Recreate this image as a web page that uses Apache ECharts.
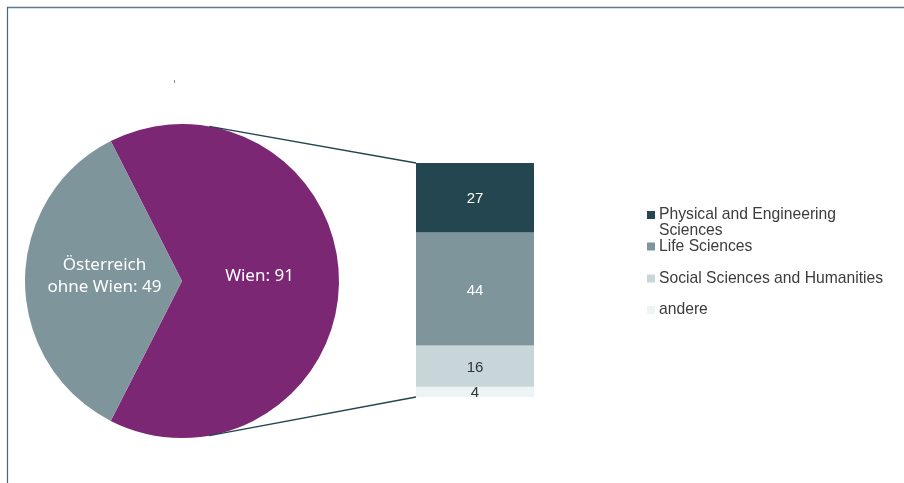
<!DOCTYPE html>
<html><head><meta charset="utf-8">
<script src="https://cdn.jsdelivr.net/npm/echarts@6/dist/echarts.min.js"></script>
<style>html,body{margin:0;padding:0;background:#fff}#c{width:904px;height:483px}</style>
</head><body><div id="c"></div>
<script>
const pieNames = ['Wien', 'Österreich\nohne Wien'];
const pieValues = [91, 49];
const barCategory = ['Wien'];
const fieldNames = ['andere', 'Social Sciences and Humanities', 'Life Sciences', 'Physical and Engineering Sciences'];
const fieldValues = [4, 16, 44, 27];
const legendOrder = ['Physical and Engineering Sciences', 'Life Sciences', 'Social Sciences and Humanities', 'andere'];

const fieldColors = { 'andere': '#eef3f4', 'Social Sciences and Humanities': '#c8d5d9', 'Life Sciences': '#7f959c', 'Physical and Engineering Sciences': '#234651' };
const fieldLabelColors = { 'andere': '#333333', 'Social Sciences and Humanities': '#333333', 'Life Sciences': '#ffffff', 'Physical and Engineering Sciences': '#ffffff' };
const pieColors = ['#7b2774', '#7f959c'];
const pieLabelOffsets = [[-4, -5], [4, -5]];

const PIE_C = [182, 281], PIE_R = 157;
const GRID = { left: 416, top: 163, width: 118, height: 234 };
const barTotal = fieldValues.reduce((a, b) => a + b, 0);

const chart = echarts.init(document.getElementById('c'), null, { renderer: 'canvas' });

const legendTops = [191, 238.5, 270.5, 302];
const legends = legendOrder.map((n, i) => ({
  data: [n], left: 647, top: legendTops[i], padding: 0, orient: 'vertical',
  itemWidth: 8, itemHeight: 8, icon: 'rect', selectedMode: false,
  formatter: (name) => name === 'Physical and Engineering Sciences' ? '\nPhysical and Engineering\nSciences' : name,
  textStyle: { fontFamily: 'Liberation Sans, Arial, sans-serif', fontSize: 15.7, color: '#3c3c3c', lineHeight: 16, padding: [0, 0, 0, -1] }
}));

const option = {
  animation: false,
  backgroundColor: '#ffffff',
  legend: legends,
  grid: Object.assign({ containLabel: false }, GRID),
  xAxis: { type: 'category', data: barCategory, show: false },
  yAxis: { type: 'value', min: 0, max: barTotal, show: false },
  series: [
    {
      type: 'pie', center: PIE_C, radius: PIE_R, startAngle: 117, clockwise: true,
      data: pieNames.map((n, i) => ({ name: n, value: pieValues[i], itemStyle: { color: pieColors[i] }, label: { offset: pieLabelOffsets[i] } })),
      label: {
        show: true, position: 'inside', formatter: '{b}: {c}', color: '#ffffff',
        fontFamily: 'Noto Sans, Open Sans, sans-serif', fontSize: 17, lineHeight: 22
      },
      labelLine: { show: false }, emphasis: { disabled: true }, silent: true
    },
    ...fieldNames.map((n, i) => ({
      type: 'bar', name: n, stack: 'w', barWidth: '100%',
      data: [fieldValues[i]],
      itemStyle: { color: fieldColors[n] },
      label: { show: true, position: 'inside', offset: [0, 1.5], color: fieldLabelColors[n], fontFamily: 'Liberation Sans, Arial, sans-serif', fontSize: 15 },
      emphasis: { disabled: true }, silent: true
    }))
  ]
};
chart.setOption(option);

const yTop = chart.convertToPixel({ gridIndex: 0 }, [0, barTotal])[1];
const yBot = chart.convertToPixel({ gridIndex: 0 }, [0, 0])[1];
const a = 80 * Math.PI / 180;
const pTop = [PIE_C[0] + PIE_R * Math.cos(a), PIE_C[1] - PIE_R * Math.sin(a)];
const pBot = [PIE_C[0] + PIE_R * Math.cos(a), PIE_C[1] + PIE_R * Math.sin(a)];
const lineStyle = { stroke: '#23454f', lineWidth: 1.5 };
chart.setOption({
  graphic: [
    { type: 'line', shape: { x1: 7, y1: 7.5, x2: 904, y2: 7.5 }, style: { stroke: '#5a7d8b', lineWidth: 1.5 }, silent: true },
    { type: 'line', shape: { x1: 7.5, y1: 7, x2: 7.5, y2: 483 }, style: { stroke: '#47697a', lineWidth: 1.2 }, silent: true },
    { type: 'line', shape: { x1: 174.5, y1: 80, x2: 174.5, y2: 83 }, style: { stroke: '#888', lineWidth: 1 }, silent: true },
    { type: 'line', shape: { x1: pTop[0], y1: pTop[1], x2: GRID.left, y2: yTop }, style: lineStyle, silent: true, z: 10 },
    { type: 'line', shape: { x1: pBot[0], y1: pBot[1], x2: GRID.left, y2: yBot }, style: lineStyle, silent: true, z: 10 }
  ]
});
</script></body></html>
